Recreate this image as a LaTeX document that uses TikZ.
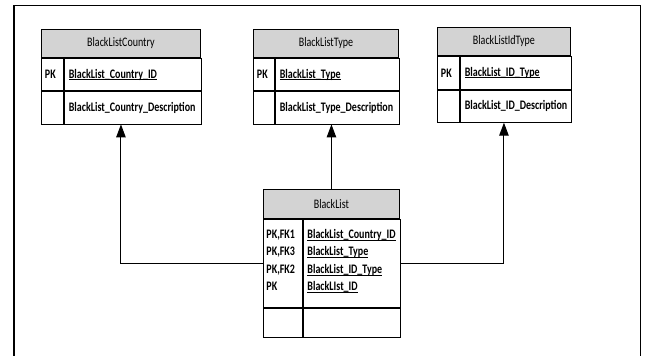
\documentclass[tikz,border=0pt]{standalone}
\usepackage{fontspec}
\setmainfont{Carlito}[FakeStretch=0.77]
\usetikzlibrary{arrows.meta}

\newsavebox{\keybox}
\newcommand{\keyline}[1]{\leavevmode\sbox{\keybox}{#1}\rlap{\rule[-1.7pt]{\wd\keybox}{0.6pt}}\usebox{\keybox}}
\newcommand{\lowstrut}{\rule[-6.5pt]{0pt}{0pt}}

\definecolor{headgray}{RGB}{211,211,211}

\tikzset{
	tblhead/.style={draw, fill=headgray, line width=0.9pt, inner sep=0pt, anchor=north west},
	keycell/.style={draw, line width=0.9pt, inner xsep=3.5pt, inner ysep=0pt, anchor=north west, align=left, font=\bfseries\fontsize{13}{17.5}\selectfont},
	fieldcell/.style={draw, line width=0.9pt, inner xsep=4.5pt, inner ysep=0pt, anchor=north west, align=left, font=\bfseries\fontsize{13}{17.5}\selectfont},
	fk/.style={-{Triangle[length=13pt, width=9.5pt]}, line width=1pt},
}

\begin{document}
\begin{tikzpicture}[x=1pt, y=-1pt, font=\fontsize{13}{15}\selectfont]
				\useasboundingbox (0,0) rectangle (648,356);
				\draw[line width=1.2pt] (14,356) -- (14,5.5) -- (640.5,5.5) -- (640.5,356);
				
				% BlackListCountry
				\node[tblhead, minimum width=159pt, minimum height=28.6pt] (country) at (41,28.7) {BlackListCountry};
				\node[keycell, text width=15pt, minimum height=32pt] (countryK1) at (country.south west) {PK};
				\node[fieldcell, text width=128pt, minimum height=32pt] (countryF1) at (countryK1.north east) {\keyline{BlackList\_Country\_ID}};
				\node[keycell, text width=15pt, minimum height=32.4pt] (countryK2) at (countryK1.south west) {};
				\node[fieldcell, text width=128pt, minimum height=32.4pt] (countryF2) at (countryK2.north east) {BlackList\_Country\_Description};
				
				% BlackListType
				\node[tblhead, minimum width=145pt, minimum height=28.6pt] (type) at (253,28.7) {BlackListType};
				\node[keycell, text width=14pt, minimum height=32pt] (typeK1) at (type.south west) {PK};
				\node[fieldcell, text width=115pt, minimum height=32pt] (typeF1) at (typeK1.north east) {\keyline{BlackList\_Type}};
				\node[keycell, text width=14pt, minimum height=32.4pt] (typeK2) at (typeK1.south west) {};
				\node[fieldcell, text width=115pt, minimum height=32.4pt] (typeF2) at (typeK2.north east) {BlackList\_Type\_Description};
				
				% BlackListIdType
				\node[tblhead, minimum width=133pt, minimum height=28.6pt] (idtype) at (437,26.7) {BlackListIdType};
				\node[keycell, text width=15pt, minimum height=32.4pt] (idtypeK1) at (idtype.south west) {PK};
				\node[fieldcell, text width=102pt, minimum height=32.4pt] (idtypeF1) at (idtypeK1.north east) {\keyline{BlackList\_ID\_Type}};
				\node[keycell, text width=15pt, minimum height=32.3pt] (idtypeK2) at (idtypeK1.south west) {};
				\node[fieldcell, text width=102pt, minimum height=32.3pt] (idtypeF2) at (idtypeK2.north east) {BlackList\_ID\_Description};
				
				% BlackList
				\node[tblhead, minimum width=136pt, minimum height=29pt] (blacklist) at (263,189.3) {BlackList};
				\node[keycell, inner xsep=3pt, text width=32.6pt, minimum height=87.4pt] (blKeys) at (blacklist.south west) {PK,FK1\\PK,FK3\\PK,FK2\\PK\lowstrut};
				\node[fieldcell, text width=88.4pt, minimum height=87.4pt] (blFields) at (blKeys.north east) {\keyline{BlackList\_Country\_ID}\\\keyline{BlackList\_Type}\\\keyline{BlackList\_ID\_Type}\\\keyline{BlackLIst\_ID}\lowstrut};
				\node[keycell, inner xsep=3pt, text width=32.6pt, minimum height=29.3pt] (blKeys2) at (blKeys.south west) {};
				\node[fieldcell, text width=88.4pt, minimum height=29.3pt] (blFields2) at (blKeys2.north east) {};
				
				\draw[fk] (blKeys.west) -| (country.south |- countryF2.south);
				\draw[fk] (blacklist.north) -- (blacklist.north |- typeF2.south);
				\draw[fk] (blFields.east) -| (idtype.south |- idtypeF2.south);
			\end{tikzpicture}
\end{document}
